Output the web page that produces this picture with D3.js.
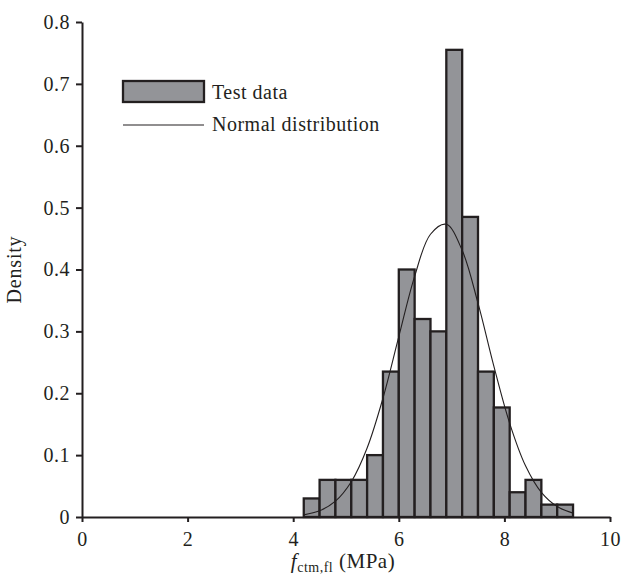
<!DOCTYPE html>
<html>
<head>
<meta charset="utf-8">
<script src="https://cdn.jsdelivr.net/npm/d3@7"></script>
<style>
body { margin: 0; background: #fff; }
text { font-family: "Liberation Serif", "Times New Roman", serif; fill: #231f20; }
</style>
</head>
<body>
<div id="chart"></div>
<script>
// histogram bins (lower edge, MPa) and density
var binStart = [4.2, 4.5, 4.8, 5.1, 5.4, 5.7, 6.0, 6.3, 6.6, 6.9, 7.2, 7.5, 7.8, 8.1, 8.4, 8.7, 9.0];
var binWidth = 0.3;
var density = [0.03, 0.06, 0.06, 0.06, 0.1, 0.235, 0.40, 0.32, 0.30, 0.755, 0.485, 0.235, 0.177, 0.04, 0.06, 0.02, 0.02];

// normal distribution curve
var curveX = [4.2, 4.5, 4.8, 5.1, 5.4, 5.7, 6.0, 6.3, 6.6, 6.9, 7.2, 7.5, 7.8, 8.1, 8.4, 8.7, 9.0, 9.3];
var curveY = [0.0035, 0.010, 0.0256, 0.057, 0.1115, 0.192, 0.2915, 0.389, 0.457, 0.473, 0.431, 0.3455, 0.2438, 0.1514, 0.0828, 0.0398, 0.0169, 0.0063];

var xTicks = [0, 2, 4, 6, 8, 10];
var yTicks = [0, 0.1, 0.2, 0.3, 0.4, 0.5, 0.6, 0.7, 0.8];

var W = 623, H = 576;
var margin = {top: 22, left: 82},
    width = 610 - 82,
    height = 517 - 22;

var ink = "#231f20";

var svg = d3.select("#chart").append("svg")
    .attr("width", W)
    .attr("height", H)
  .append("g")
    .attr("transform", `translate(${margin.left}, ${margin.top})`);

var x = d3.scaleLinear().domain([0, 10]).range([0, width]);
var y = d3.scaleLinear().domain([0, 0.8]).range([height, 0]);

// bars
svg.selectAll("rect.bar")
    .data(binStart)
    .enter().append("rect")
    .attr("class", "bar")
    .attr("x", d => x(d))
    .attr("width", x(binWidth) - x(0))
    .attr("y", (d, i) => y(density[i]))
    .attr("height", (d, i) => y(0) - y(density[i]))
    .attr("fill", "#939498")
    .attr("stroke", ink)
    .attr("stroke-width", 2.3);

// normal curve
var line = d3.line()
    .x(d => x(d[0]))
    .y(d => y(d[1]))
    .curve(d3.curveCatmullRom);

svg.append("path")
    .datum(curveX.map((v, i) => [v, curveY[i]]))
    .attr("d", line)
    .attr("fill", "none")
    .attr("stroke", ink)
    .attr("stroke-width", 1.1);

// x axis
var xAxis = svg.append("g")
    .attr("transform", `translate(0, ${height})`)
    .call(d3.axisBottom(x).tickValues(xTicks).tickSize(5).tickSizeOuter(0).tickPadding(10));

// y axis
var yAxis = svg.append("g")
    .call(d3.axisLeft(y).tickValues(yTicks).tickSize(6).tickSizeOuter(0).tickPadding(6)
        .tickFormat(d => d === 0 ? "0" : d3.format(".1f")(d)));

[xAxis, yAxis].forEach(a => {
    a.select(".domain").attr("stroke", ink).attr("stroke-width", 2);
    a.selectAll(".tick line").attr("stroke", ink).attr("stroke-width", 2);
    a.selectAll(".tick text")
        .style("font-family", "'Liberation Serif', serif")
        .style("font-size", "20px")
        .style("letter-spacing", "0.5px")
        .attr("fill", ink);
});

// axis titles
svg.append("text")
    .attr("transform", "rotate(-90)")
    .attr("x", -(y(0.4)))
    .attr("y", -61)
    .attr("text-anchor", "middle")
    .style("font-size", "20px")
    .style("letter-spacing", "0.8px")
    .text("Density");

var xt = svg.append("text")
    .attr("x", x(5) - 3)
    .attr("y", height + 51)
    .attr("text-anchor", "middle")
    .style("font-size", "21px")
    .style("letter-spacing", "0.5px");
xt.append("tspan").style("font-style", "italic").text("f");
xt.append("tspan").attr("dy", 4).style("font-size", "14px").text("ctm,fl");
xt.append("tspan").attr("dy", -4).text(" (MPa)");

// legend
var legend = svg.append("g").attr("transform", `translate(${123 - margin.left}, ${81 - margin.top})`);
legend.append("rect")
    .attr("width", 81).attr("height", 21)
    .attr("fill", "#939498")
    .attr("stroke", ink)
    .attr("stroke-width", 2.3);
legend.append("text")
    .attr("x", 89).attr("y", 18)
    .style("font-size", "20px")
    .style("letter-spacing", "0.5px")
    .text("Test data");
legend.append("line")
    .attr("x1", 0).attr("x2", 81)
    .attr("y1", 44).attr("y2", 44)
    .attr("stroke", ink)
    .attr("stroke-width", 1.1);
legend.append("text")
    .attr("x", 89).attr("y", 50)
    .style("font-size", "20px")
    .style("letter-spacing", "0.5px")
    .text("Normal distribution");
</script>
</body>
</html>
